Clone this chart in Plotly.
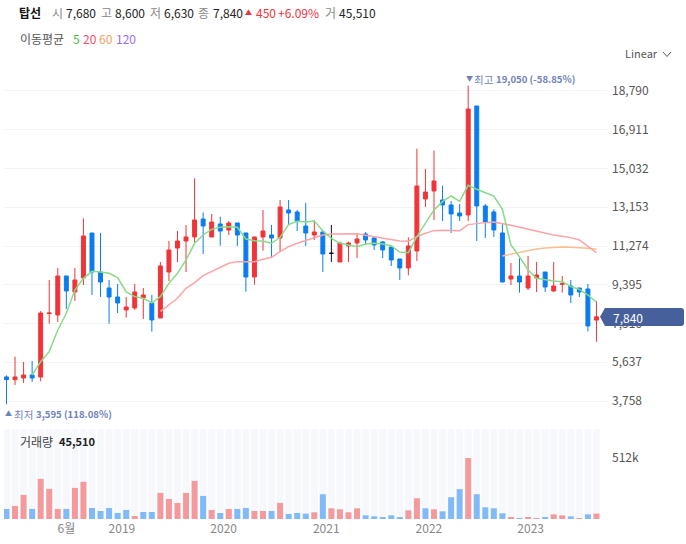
"""Monthly candlestick chart with moving averages and a volume panel."""
import plotly.graph_objects as go

W, H = 686, 544
FONT = "Noto Sans CJK KR"

# ---- DATA ----
opens = [4923, 4794, 4875, 5020, 4923, 8000, 7929, 9820, 9044, 9723,
         11904, 10014, 9238, 8802, 8172, 8269, 8753, 8511, 7784, 10014,
         11177, 11517, 11711, 12583, 11711, 12341, 12050, 12390, 11906, 9772,
         11712, 11809, 11663, 13021, 12924, 12245, 11809, 11954, 10920, 10500,
         11275, 11421, 11857, 11663, 11469, 11227, 10645, 10209, 11033, 13554,
         13942, 13506, 13263, 12875, 12778, 18063, 13215, 12924, 11906, 9674,
         9820, 9238, 9723, 10014, 9093, 9416, 9335, 9238, 9190, 7680]
highs = [5004, 5909, 5650, 5700, 8123, 9626, 10208, 9820, 10208, 12616,
         11904, 11904, 9626, 9432, 8802, 9432, 9238, 8899, 10499, 11517,
         12001, 12292, 14557, 12906, 12826, 12696, 12486, 12390, 11906, 11712,
         13021, 12293, 13505, 13505, 13021, 13360, 12535, 12051, 12293, 11486,
         11486, 11857, 11954, 11728, 11518, 11227, 10645, 11695, 15994, 15008,
         15897, 14200, 13457, 13312, 19050, 18063, 13312, 13053, 12391, 10450,
         10676, 10790, 10499, 10014, 10499, 9820, 9626, 9238, 9432, 8600]
lows = [3595, 4536, 4633, 4681, 4713, 7509, 7590, 8220, 8608, 9384,
        8899, 8802, 7509, 8026, 7800, 8172, 7735, 7121, 7784, 9577,
        10499, 10014, 11468, 10886, 11711, 11291, 11808, 11275, 9061, 9401,
        11049, 10693, 10984, 12293, 12002, 11275, 11566, 10015, 10500, 10500,
        10500, 10693, 11324, 11081, 10693, 10306, 9627, 9853, 10548, 13166,
        12536, 12488, 11906, 12488, 12488, 11518, 11664, 11712, 9513, 9384,
        9012, 9141, 9044, 9044, 9044, 9012, 8511, 8802, 7137, 6630]
closes = [4794, 4923, 5020, 4875, 8026, 8026, 9820, 9093, 9626, 11759,
          10014, 9529, 8802, 8511, 8318, 9044, 8899, 7687, 10305, 11080,
          11517, 11711, 12535, 12244, 12438, 12001, 12389, 11809, 9772, 11712,
          12002, 11663, 13166, 12875, 12487, 11906, 11954, 10888, 10920, 11421,
          11421, 11615, 11566, 11324, 11081, 10597, 10209, 11275, 14184, 13893,
          14427, 13263, 12827, 12730, 17917, 13215, 12439, 12051, 9529, 9820,
          9529, 9820, 9868, 9287, 9335, 9448, 8899, 9044, 7396, 7840]

ma5_idx = list(range(3, 70))
ma5 = [5020, 5667, 6152, 7202, 8010, 9141, 9707, 10046, 10014, 9949,
       9739, 9044, 8818, 8737, 8511, 8818, 9464, 9949, 10596, 11404,
       11808, 12082, 12179, 12212, 12180, 11615, 11534, 11518, 11405, 11695,
       12310, 12471, 12439, 12487, 12002, 11647, 11405, 11324, 11243, 11372,
       11405, 11372, 11291, 10984, 10950, 11728, 12407, 13021, 13425,
       13699, 13441, 14217, 14023, 13861, 13699, 13053, 11323, 10750, 10111,
       9707, 9626, 9577, 9545, 9303, 9173, 8899, 8559]
ma20_idx = list(range(18, 70))
ma20 = [8100, 8414, 8737, 9222, 9497, 9836, 10030, 10240, 10435, 10516,
        10516, 10516, 10629, 10726, 11001, 11243, 11405, 11550, 11695, 11809,
        11857, 11873, 11873, 11873, 11792, 11728, 11663, 11599, 11518, 11502,
        11728, 11890, 12019, 12035, 12019, 12019, 12310, 12374, 12407, 12439,
        12374, 12277, 12180, 12084, 11970, 11873, 11809, 11744, 11680, 11566,
        11275, 10952]
ma60_idx = list(range(58, 70))
ma60 = [10791, 10872, 10968, 11065, 11130, 11179, 11211, 11227, 11211, 11195,
        11162, 11114]

volumes = [84300, 109600, 202300, 84300, 337200, 252900, 84300, 84300, 261300, 311900,
           92700, 67400, 92700, 50600, 75900, 25300, 59000, 59000, 219200, 168600,
           134900, 219200, 320300, 193900, 75900, 50600, 84300, 84300, 92700, 67400,
           67400, 67400, 134900, 42200, 50600, 45000, 56200, 207900, 89900, 81500,
           56200, 89900, 30900, 22500, 14100, 30900, 14100, 73100, 174200, 89900,
           81500, 64600, 182700, 250100, 512000, 207900, 98400, 89900, 47800, 14100,
           5600, 14100, 5600, 14100, 39300, 30900, 22500, 5600, 39300, 45510]
vol_up = [0, 1, 1, 0, 1, 1, 1, 0, 1, 1, 0, 0, 0, 0, 0, 1, 0, 0, 1, 1,
          1, 1, 1, 0, 1, 0, 1, 0, 0, 1, 1, 0, 1, 0, 0, 0, 1, 0, 1, 1,
          1, 1, 0, 0, 0, 0, 0, 1, 1, 0, 1, 0, 0, 0, 1, 0, 0, 0, 0, 1,
          0, 1, 1, 0, 1, 1, 0, 1, 0, 1]

price_ticks = [18790, 16911, 15032, 13153, 11274, 9395, 7516, 5637, 3758]
tick_pos = [7, 13.5, 25.4, 37.4, 49.4, 61.3]
tick_text = ["6월", "2019", "2020", "2021", "2022", "2023"]
doji_idx = 38  # open == close, drawn in black

RED, BLUE = "#ef3539", "#0b7cf0"
idx = list(range(len(closes)))
normal = [i for i in idx if i != doji_idx]


def px_x(x):
    return x / W


def px_y(y):
    return 1 - y / H


fig = go.Figure()

fig.add_trace(go.Candlestick(
    x=normal,
    open=[opens[i] for i in normal], high=[highs[i] for i in normal],
    low=[lows[i] for i in normal], close=[closes[i] for i in normal],
    increasing=dict(line=dict(color=RED, width=1), fillcolor=RED),
    decreasing=dict(line=dict(color=BLUE, width=1), fillcolor=BLUE),
    whiskerwidth=0, showlegend=False,
))
fig.add_trace(go.Candlestick(
    x=[doji_idx], open=[opens[doji_idx]], high=[highs[doji_idx]],
    low=[lows[doji_idx]], close=[closes[doji_idx]],
    increasing=dict(line=dict(color="#111111", width=1), fillcolor="#111111"),
    decreasing=dict(line=dict(color="#111111", width=1), fillcolor="#111111"),
    showlegend=False,
))

for xs, ys, color in [(ma60_idx, ma60, "#fbbf8f"),
                      (ma20_idx, ma20, "#fba4a6"),
                      (ma5_idx, ma5, "#86dc86")]:
    fig.add_trace(go.Scatter(x=xs, y=ys, mode="lines", showlegend=False,
                             line=dict(color=color, width=1.5)))

# volume panel
fig.add_trace(go.Bar(x=idx, y=[755000] * len(idx), width=0.84, marker_color="#f7f8fc",
                     marker_line_width=0, xaxis="x2", yaxis="y2", showlegend=False))
fig.add_trace(go.Bar(x=idx, y=volumes, width=0.7, xaxis="x2", yaxis="y2", showlegend=False,
                     marker_color=["#f49a9d" if u else "#80baf8" for u in vol_up],
                     marker_line_width=0))

x_range = [-0.29, 70.35]
fig.update_layout(
    width=W, height=H, margin=dict(l=0, r=0, t=0, b=0),
    paper_bgcolor="white", plot_bgcolor="white",
    font=dict(family=FONT, size=12, color="#555555"),
    barmode="overlay", boxgap=0.34, showlegend=False,
    xaxis=dict(domain=[px_x(4), px_x(608)], range=x_range, anchor="y",
               showgrid=False, showticklabels=False, ticks="", zeroline=False,
               rangeslider_visible=False),
    yaxis=dict(domain=[px_y(418), px_y(72)], range=[2934, 19711], side="right",
               tickvals=price_ticks, ticktext=[f"{v:,}" for v in price_ticks],
               gridcolor="#f2f3f6", gridwidth=1, zeroline=False, showline=False, ticks="",
               ticklabelstandoff=3, tickfont=dict(color="#555555", size=12)),
    xaxis2=dict(domain=[px_x(4), px_x(608)], range=x_range, anchor="y2",
                tickvals=tick_pos, ticktext=tick_text, showgrid=False, zeroline=False,
                ticks="", tickfont=dict(color="#888888", size=12), ticklabelstandoff=1),
    yaxis2=dict(domain=[px_y(519), px_y(429)], range=[0, 755000], side="right", anchor="x2",
                tickvals=[512000], ticktext=["512k"], showgrid=False, zeroline=False,
                ticks="", ticklabelstandoff=3, tickfont=dict(color="#555555", size=12)),
)


def label(x, y, text, color="#555555", size=12, bold=False, xanchor="left"):
    fig.add_annotation(xref="paper", yref="paper", x=px_x(x), y=px_y(y),
                       text=f"<b>{text}</b>" if bold else text,
                       showarrow=False, xanchor=xanchor, yanchor="middle", borderpad=0,
                       font=dict(family=FONT, size=size, color=color))


# header row
label(18, 12, "탑선", "#111111", 12, True)
for x, t, dark in [(51, "시", False), (65, "7,680", True), (100, "고", False), (114, "8,600", True),
                   (149, "저", False), (163, "6,630", True), (197, "종", False), (212, "7,840", True),
                   (324, "거", False), (338, "45,510", True)]:
    label(x, 12, t, "#222222" if dark else "#888888")
label(244, 12, "▲", "#f0323c", 7)
label(255, 12, "450", "#f0323c")
label(277, 12, "+6.09%", "#f0323c")

# moving average legend
label(19, 39, "이동평균", "#555555")
for x, t, color in [(72, "5", "#44c03c"), (82, "20", "#fb4a68"),
                    (98, "60", "#f5a25c"), (115, "120", "#9a6cf5")]:
    label(x, 39, t, color)

label(624, 53, "Linear", "#555555", 11)
fig.add_shape(type="path", xref="paper", yref="paper",
              path=f"M {px_x(663)} {px_y(52)} L {px_x(667)} {px_y(56.5)} L {px_x(671)} {px_y(52)}",
              line=dict(color="#555555", width=1))

# high / low markers
label(465, 78, "▼", "#6f82b8", 7)
label(473, 79, "최고", "#6f82b8", 10.5)
label(495, 79, "19,050 (-58.85%)", "#6f82b8", 9.6, True)
label(4, 413, "▲", "#6f82b8", 7)
label(13, 414, "최저", "#6f82b8", 10.5)
label(35, 414, "3,595 (118.08%)", "#6f82b8", 9.6, True)
label(19, 441, "거래량", "#444444")
label(58, 441, "45,510", "#222222", 11, True)

# last price flag
fig.add_shape(type="path", xref="paper", yref="paper", fillcolor="#46609c", line_width=0,
              path=(f"M {px_x(600)} {px_y(316.7)} L {px_x(605)} {px_y(308)} L {px_x(681)} {px_y(308)} "
                    f"Q {px_x(684)} {px_y(308)} {px_x(684)} {px_y(311)} L {px_x(684)} {px_y(323)} "
                    f"Q {px_x(684)} {px_y(326)} {px_x(681)} {px_y(326)} L {px_x(605)} {px_y(326)} Z"))
label(612, 317, "7,840", "#ffffff", 12)

fig.write_html("out.html", post_script="document.body.style.margin='0';",
               config=dict(displayModeBar=False))
